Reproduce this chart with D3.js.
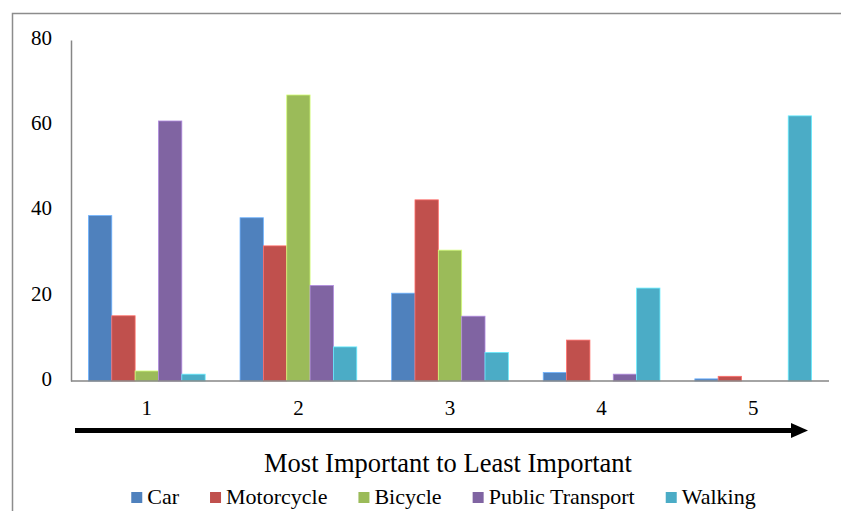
<!DOCTYPE html>
<html><head><meta charset="utf-8">
<script src="https://cdn.jsdelivr.net/npm/d3@7/dist/d3.min.js"></script>
<style>body{margin:0;background:#fff}svg{display:block}</style>
</head><body>
<svg id="c" width="841" height="511"></svg>
<script>
const categories = ["1","2","3","4","5"];
const seriesNames = ["Car","Motorcycle","Bicycle","Public Transport","Walking"];
const colors = ["#4F81BD","#C0504D","#9BBB59","#8064A2","#4BACC6"];
const car = [38.8, 38.3, 20.6, 2.0, 0.5];
const motorcycle = [15.3, 31.7, 42.5, 9.6, 1.1];
const bicycle = [2.35, 67.1, 30.7, 0, 0];
const publicTransport = [61.0, 22.4, 15.2, 1.6, 0];
const walking = [1.6, 8.0, 6.7, 21.8, 62.2];
const yTicks = [0, 20, 40, 60, 80];
const xTitle = "Most Important to Least Important";

const series = [car, motorcycle, bicycle, publicTransport, walking];
const svg = d3.select("#c");
const FF = "'Liberation Serif', 'Times New Roman', serif";

// outer border
svg.append("path").attr("d","M12.5,511 L12.5,13.5 L841,13.5").attr("fill","none").attr("stroke","#8c8c8c").attr("stroke-width",1.5);

const x0 = 71, x1 = 829, yTop = 40, yBot = 381;
const x = d3.scaleBand().domain(categories).range([x0, x1]).paddingInner(0.23).paddingOuter(0.115);
const xs = d3.scaleBand().domain(seriesNames).range([0, x.bandwidth()]);
const y = d3.scaleLinear().domain([0, 80]).range([yBot, yTop]);

// bars
seriesNames.forEach((name, si) => {
  svg.append("g").selectAll("rect").data(categories).join("rect")
    .attr("x", c => x(c) + xs(name))
    .attr("y", (c, i) => y(series[si][i]))
    .attr("width", xs.bandwidth())
    .attr("height", (c, i) => y(0) - y(series[si][i]))
    .attr("fill", colors[si])
    .attr("stroke", d3.color(colors[si]).brighter(0.9))
    .attr("stroke-width", 0.8)
    .attr("opacity", (c, i) => series[si][i] > 0 ? 1 : 0);
});

// y axis
const yAxis = d3.axisLeft(y).tickValues(yTicks).tickSize(0).tickPadding(19);
const gy = svg.append("g").attr("transform", `translate(${x0},0)`).call(yAxis);
gy.attr("font-family", null).attr("font-size", null);
gy.select(".domain").attr("stroke", "#868686").attr("stroke-width", 1.5);
gy.selectAll("text").style("font-family", FF).style("font-size", "21px").attr("fill", "#000").attr("dy", "0.3em").attr("y", -2);

// x axis
const xAxis = d3.axisBottom(x).tickSize(0).tickPadding(18);
const gx = svg.append("g").attr("transform", `translate(0,${yBot})`).call(xAxis);
gx.attr("font-family", null).attr("font-size", null);
gx.select(".domain").attr("stroke", "#868686").attr("stroke-width", 1.5).attr("d", `M${x0},0H${x1}`);
gx.selectAll("text").style("font-family", FF).style("font-size", "21px").attr("fill", "#000").attr("dy", null).attr("y", 34);

// arrow
svg.append("line").attr("x1",75).attr("x2",793).attr("y1",430.5).attr("y2",430.5)
  .attr("stroke","#000").attr("stroke-width",5);
svg.append("path").attr("d","M791,423 L808,430.5 L791,438 Z").attr("fill","#000");

// title
svg.append("text").attr("x", 448).attr("y", 472).attr("text-anchor","middle")
  .style("font-family", FF).style("font-size", "26.5px").attr("fill","#000").text(xTitle);

// legend
const gap = 31;
const lg = svg.append("g");
let lx = 0;
seriesNames.forEach((n, i) => {
  const g = lg.append("g").attr("transform", `translate(${lx},0)`);
  g.append("rect").attr("x",0).attr("y",-12).attr("width",11).attr("height",11).attr("fill",colors[i]);
  const t = g.append("text").attr("x",16).attr("y",0).style("font-family", FF).style("font-size","22px").attr("fill","#000").text(n);
  lx += 16 + t.node().getComputedTextLength() + gap;
});
const totalW = lx - gap;
lg.attr("transform", `translate(${443.5 - totalW/2},504)`);
</script>
</body></html>
